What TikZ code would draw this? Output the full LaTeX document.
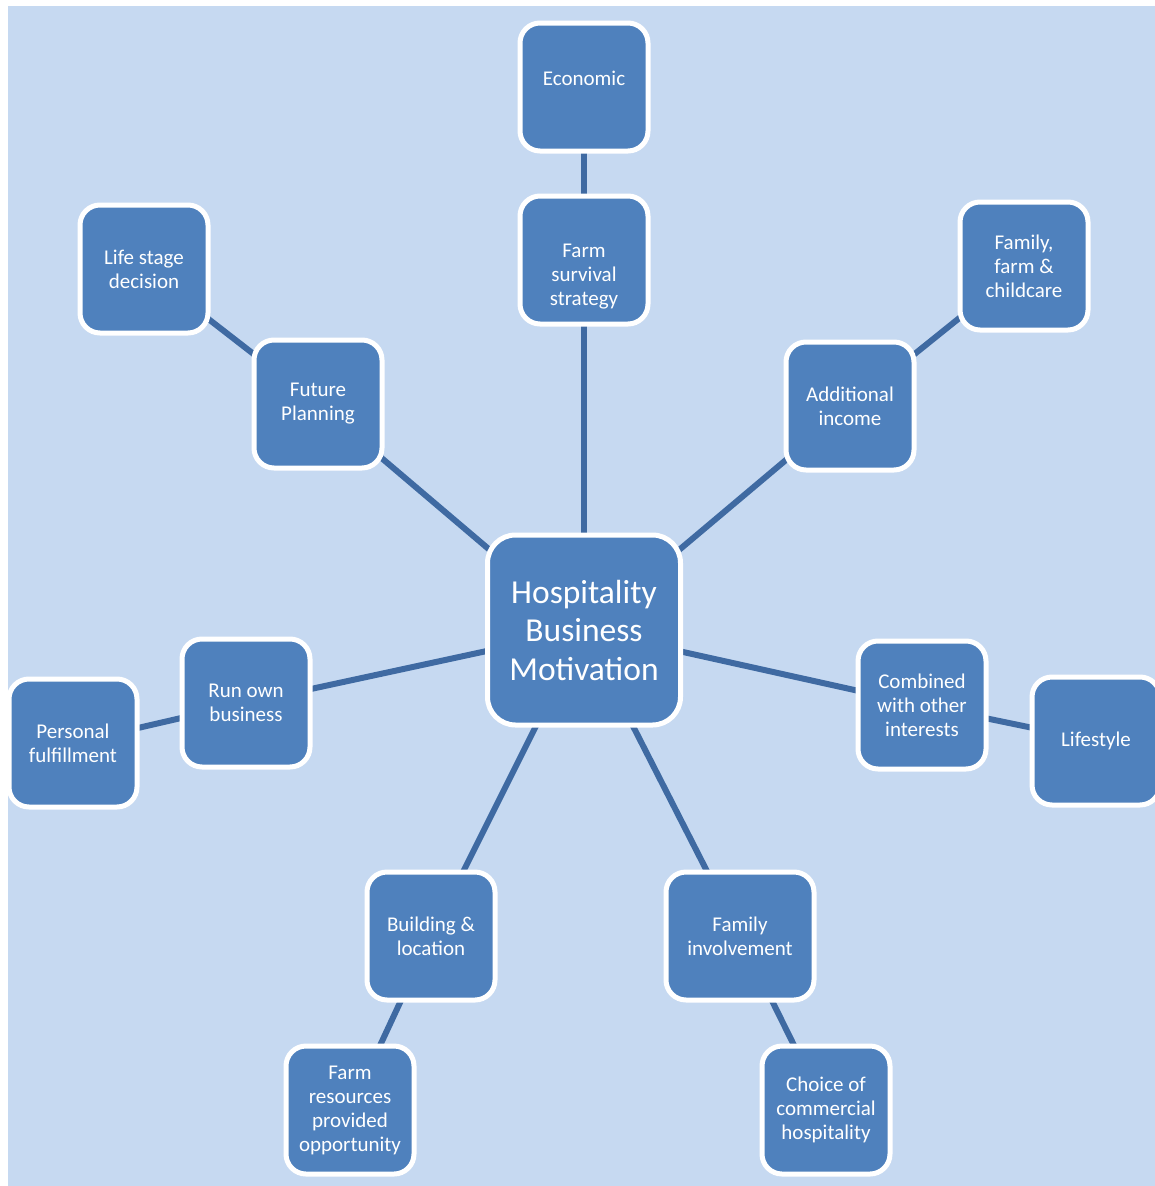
\documentclass[tikz,border=0pt]{standalone}
\usepackage{fontspec}
\setmainfont{Carlito}
\definecolor{paneblue}{HTML}{C6D9F1}
\definecolor{boxblue}{HTML}{4F81BD}
\definecolor{linkblue}{HTML}{3F6AA2}
\pgfdeclarelayer{back}
\pgfdeclarelayer{links}
\pgfsetlayers{back,links,main}
\tikzset{
  box/.style={draw=white, line width=5pt, fill=boxblue, rounded corners=20pt,
    minimum width=128pt, minimum height=128pt, inner sep=2pt,
    text=white, align=center, font=\fontsize{21}{24}\selectfont},
  hub/.style={box, minimum width=193pt, minimum height=190pt, rounded corners=28pt,
    font=\fontsize{33.5}{38.5}\selectfont},
  boxtext/.style={text=white, align=center, font=\fontsize{21}{24}\selectfont},
  link/.style={draw=linkblue, line width=6pt}
}
\begin{document}
\begin{tikzpicture}[x=1pt,y=-1pt]
  \useasboundingbox (0,0) rectangle (1155,1186);
  \node[hub] (hub) at (584,630) {Hospitality\\Business\\Motivation};
  \node[box, label={[boxtext,yshift=9pt]center:Economic}] (econ) at (584,87) {};
  \node[box, label={[boxtext,yshift=-17pt]center:Farm\\survival\\strategy}] (survival) at (584,260) {};
  \node[box] (lifestage) at (144,269) {Life stage\\decision};
  \node[box] (future) at (318,404) {Future\\Planning};
  \node[box] (famcare) at (1024,266) {Family,\\farm \&\\childcare};
  \node[box] (income) at (850,406) {Additional\\income};
  \node[box] (ownbiz) at (246,703) {Run own\\business};
  \node[box] (personal) at (73,743) {Personal\\fulfillment};
  \node[box] (combined) at (922,705) {Combined\\with other\\interests};
  \node[box] (lifestyle) at (1096,741) {Lifestyle};
  \node[box] (building) at (431,936) {Building \&\\location};
  \node[box] (resources) at (350,1110) {Farm\\resources\\provided\\opportunity};
  \node[box, minimum width=148pt] (involve) at (740,936) {Family\\involvement};
  \node[box] (choice) at (826,1110) {Choice of\\commercial\\hospitality};
  \begin{pgfonlayer}{back}
    \fill[paneblue] (8,6) rectangle (1155,1186);
  \end{pgfonlayer}
  \begin{pgfonlayer}{links}
    \draw[link] (hub.center) -- (survival.center) -- (econ.center);
    \draw[link] (hub.center) -- (future.center) -- (lifestage.center);
    \draw[link] (hub.center) -- (income.center) -- (famcare.center);
    \draw[link] (hub.center) -- (ownbiz.center) -- (personal.center);
    \draw[link] (hub.center) -- (combined.center) -- (lifestyle.center);
    \draw[link] (hub.center) -- (building.center) -- (resources.center);
    \draw[link] (hub.center) -- (involve.center) -- (choice.center);
  \end{pgfonlayer}
\end{tikzpicture}
\end{document}
